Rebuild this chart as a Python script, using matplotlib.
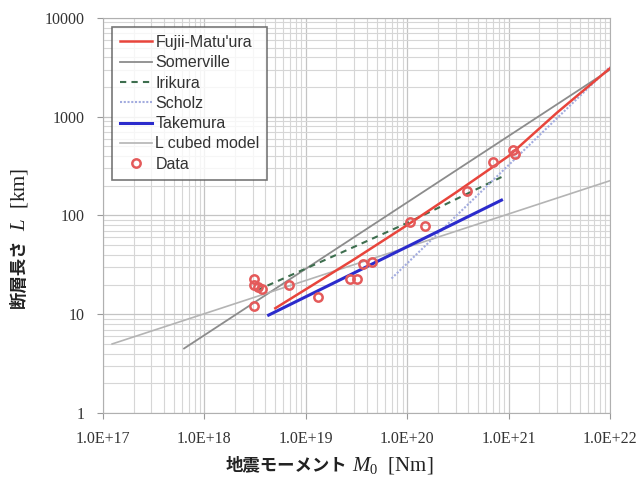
import numpy as np
import matplotlib
matplotlib.use("Agg")
import matplotlib.pyplot as plt
from matplotlib.ticker import LogLocator, FixedLocator

plt.rcParams['mathtext.fontset'] = 'custom'
plt.rcParams['mathtext.it'] = 'Liberation Serif:italic'
plt.rcParams['mathtext.rm'] = 'Liberation Serif'

# data
fm_m0 = [5.0e18, 1.1e19, 3e19, 1e20, 3e20, 1e21, 3e21, 1e22]
fm_l = [11.5, 19, 36, 80, 170, 400, 1100, 3100]

som_m0 = [6.3e17, 1e22]
som_l = [4.5, 3000]

iri_m0 = [3.3e18, 1e19, 1e20, 8.5e20]
iri_l = [17.5, 29, 84, 245]

sch_m0 = [7e19, 1e22]
sch_l = [23, 3200]

tak_m0 = [4.3e18, 8.5e20]
tak_l = [9.8, 143]

lcub_m0 = [1.23e17, 1e22]
lcub_l = [5.0, 225]

data_m0 = [3.1e18, 3.1e18, 3.4e18, 3.7e18, 3.1e18, 6.9e18, 1.32e19, 2.7e19,
           3.2e19, 3.7e19, 4.5e19, 1.07e20, 1.5e20, 3.9e20, 7.0e20, 1.1e21,
           1.15e21]
data_l = [23, 20, 19, 18, 12, 20, 15, 23, 23, 32, 34, 86, 78, 177, 348, 460,
          420]

xticks = [1e17, 1e18, 1e19, 1e20, 1e21, 1e22]
xtick_labels = ["1.0E+17", "1.0E+18", "1.0E+19", "1.0E+20", "1.0E+21", "1.0E+22"]
yticks = [1, 10, 100, 1000, 10000]
ytick_labels = ["1", "10", "100", "1000", "10000"]

fig = plt.figure(figsize=(6.37, 4.82), dpi=100)
ax = fig.add_axes([0.1617, 0.1432, 0.796, 0.8195])

ax.plot(fm_m0, fm_l, color='#e8453c', lw=1.8, label="Fujii-Matu'ura", zorder=4)
ax.plot(som_m0, som_l, color='#8c8c8c', lw=1.3, label="Somerville", zorder=3)
ax.plot(iri_m0, iri_l, color='#3d6e4e', lw=1.5, ls=(0, (3, 2.5)), label="Irikura", zorder=3)
ax.plot(sch_m0, sch_l, color='#a3acdf', lw=1.5, ls=(0, (1, 0.8)), label="Scholz", zorder=3)
ax.plot(tak_m0, tak_l, color='#2b2bcc', lw=2.2, label="Takemura", zorder=4)
ax.plot(lcub_m0, lcub_l, color='#b4b4b4', lw=1.2, label="L cubed model", zorder=3)
ax.plot(data_m0, data_l, ls='none', marker='o', ms=6, mfc='none', mec='#e45a5a',
        mew=1.8, label="Data", zorder=5)

ax.set_xscale('log')
ax.set_yscale('log')
ax.set_xlim(1e17, 1e22)
ax.set_ylim(1, 10000)

ax.xaxis.set_major_locator(FixedLocator(xticks))
ax.set_xticklabels(xtick_labels)
ax.yaxis.set_major_locator(FixedLocator(yticks))
ax.set_yticklabels(ytick_labels)
ax.xaxis.set_minor_locator(LogLocator(base=10, subs=np.arange(2, 10), numticks=50))
ax.yaxis.set_minor_locator(LogLocator(base=10, subs=np.arange(2, 10), numticks=50))
ax.tick_params(which='minor', length=0)
ax.tick_params(which='major', length=4, color='#999999', labelsize=11.5,
               labelcolor='#333333', pad=9)
for lab in ax.get_xticklabels() + ax.get_yticklabels():
    lab.set_family('Liberation Serif')

ax.grid(True, which='major', color='#c4c4c4', lw=0.9)
ax.grid(True, which='minor', color='#d6d6d6', lw=0.8)
ax.set_axisbelow(True)
for s in ax.spines.values():
    s.set_color('#b0b0b0')

leg = ax.legend(loc='upper left', bbox_to_anchor=(0.018, 0.977),
                prop={'family': 'Liberation Sans', 'size': 11.5},
                frameon=True, fancybox=False, edgecolor='#555555',
                handlelength=2.0, labelspacing=0.33, borderpad=0.5,
                handletextpad=0.2, borderaxespad=0)
leg.get_frame().set_linewidth(1.2)
for t in leg.get_texts():
    t.set_color('#333333')

# axis labels: Japanese part + italic symbol part
jp = ['Noto Sans CJK JP', 'DejaVu Sans']
fig.text(0.545, 0.035, "地震モーメント", family=jp, weight='bold', fontsize=12.5,
         ha='right', va='center', color='#222222')
fig.text(0.553, 0.035, "$M_0$  [Nm]", family='Liberation Serif', fontsize=15,
         ha='left', va='center', color='#222222')
fig.text(0.030, 0.505, "断層長さ", family=jp, weight='bold', fontsize=12.5,
         rotation=90, ha='center', va='top', color='#222222')
fig.text(0.030, 0.520, "$L$  [km]", family='Liberation Serif', fontsize=15,
         rotation=90, ha='center', va='bottom', color='#222222')

fig.savefig("out.png", dpi=100)
